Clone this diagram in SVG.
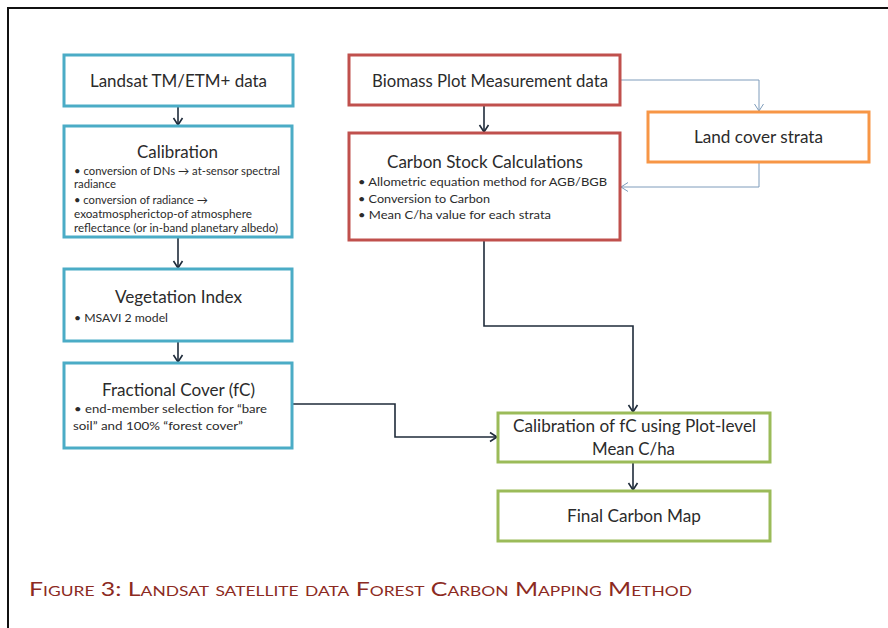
<svg xmlns="http://www.w3.org/2000/svg" width="888" height="628" viewBox="0 0 888 628">
<style>
.box{fill:#fff;stroke-width:3}
.teal{stroke:#4BACC6}
.red{stroke:#C0504D}
.orange{stroke:#F79646}
.green{stroke:#9BBB59}
.t{font-family:Lato,"Open Sans","Liberation Sans",sans-serif;fill:#2b2b2b}
.h{font-size:17px}
.b{font-size:11.5px}
.dark{fill:none;stroke:#1F2B3A;stroke-width:1.6}
.blue{fill:none;stroke:#7E9CBB;stroke-width:1}
.cap{font-family:Lato,"Open Sans","Liberation Sans",sans-serif;font-size:20px;font-variant:small-caps;fill:#8C2A22}
</style>
<defs>
<marker id="ad" markerUnits="userSpaceOnUse" markerWidth="12" markerHeight="12" refX="8" refY="6" orient="auto">
<path d="M1,1.5 L8,6 L1,10.5" fill="none" stroke="#1F2B3A" stroke-width="1.6"/>
</marker>
<marker id="ab" markerUnits="userSpaceOnUse" markerWidth="12" markerHeight="12" refX="8" refY="6" orient="auto">
<path d="M1,1.5 L8,6 L1,10.5" fill="none" stroke="#7E9CBB" stroke-width="1"/>
</marker>
</defs>
<rect width="888" height="628" fill="#fff"/>
<path d="M8,628 V8 H888" fill="none" stroke="#111" stroke-width="2"/>

<g id="connectors">
<path class="dark" d="M178,106 V125" marker-end="url(#ad)"/>
<path class="dark" d="M178,237 V268" marker-end="url(#ad)"/>
<path class="dark" d="M178,341 V362" marker-end="url(#ad)"/>
<path class="dark" d="M484,105 V132" marker-end="url(#ad)"/>
<path class="dark" d="M292,404 H395 V437 H497" marker-end="url(#ad)"/>
<path class="dark" d="M484,240 V326 H633 V412" marker-end="url(#ad)"/>
<path class="dark" d="M633,462 V490" marker-end="url(#ad)"/>
<path class="blue" d="M620,80 H759 V111" marker-end="url(#ab)"/>
<path class="blue" d="M759,162 V187 H621" marker-end="url(#ab)"/>
</g>

<g id="landsat">
<rect class="box teal" x="64" y="55" width="229" height="51"/>
<text class="t h" x="178.5" y="87" text-anchor="middle" textLength="177" lengthAdjust="spacingAndGlyphs">Landsat TM/ETM+ data</text>
</g>

<g id="calibration">
<rect class="box teal" x="64" y="126" width="228" height="111"/>
<text class="t h" x="177.5" y="158" text-anchor="middle" textLength="81" lengthAdjust="spacingAndGlyphs">Calibration</text>
<text class="t b" x="74" y="175" textLength="206" lengthAdjust="spacingAndGlyphs">• conversion of DNs → at-sensor spectral</text>
<text class="t b" x="74" y="188" textLength="42" lengthAdjust="spacingAndGlyphs">radiance</text>
<text class="t b" x="74" y="204" textLength="134" lengthAdjust="spacingAndGlyphs">• conversion of radiance →</text>
<text class="t b" x="74" y="218" textLength="178" lengthAdjust="spacingAndGlyphs">exoatmospherictop-of atmosphere</text>
<text class="t b" x="74" y="232" textLength="204" lengthAdjust="spacingAndGlyphs">reflectance (or in-band planetary albedo)</text>
</g>

<g id="vegetation">
<rect class="box teal" x="64" y="269" width="228" height="72"/>
<text class="t h" x="178.5" y="303" text-anchor="middle" textLength="127" lengthAdjust="spacingAndGlyphs">Vegetation Index</text>
<text class="t b" x="74" y="322" textLength="94" lengthAdjust="spacingAndGlyphs">• MSAVI 2 model</text>
</g>

<g id="fractional">
<rect class="box teal" x="64" y="363" width="228" height="85"/>
<text class="t h" x="178.5" y="396" text-anchor="middle" textLength="153" lengthAdjust="spacingAndGlyphs">Fractional Cover (fC)</text>
<text class="t b" x="74" y="413" textLength="193" lengthAdjust="spacingAndGlyphs">• end-member selection for “bare</text>
<text class="t b" x="73" y="430" textLength="170" lengthAdjust="spacingAndGlyphs">soil” and 100%  “forest cover”</text>
</g>

<g id="biomass">
<rect class="box red" x="349" y="55" width="271" height="50"/>
<text class="t h" x="490" y="87" text-anchor="middle" textLength="236" lengthAdjust="spacingAndGlyphs">Biomass Plot Measurement data</text>
</g>

<g id="carbonstock">
<rect class="box red" x="349" y="133" width="271" height="107"/>
<text class="t h" x="485" y="168" text-anchor="middle" textLength="196" lengthAdjust="spacingAndGlyphs">Carbon Stock Calculations</text>
<text class="t b" x="358" y="186" textLength="249" lengthAdjust="spacingAndGlyphs">• Allometric equation method for AGB/BGB</text>
<text class="t b" x="358" y="203" textLength="132" lengthAdjust="spacingAndGlyphs">• Conversion to  Carbon</text>
<text class="t b" x="358" y="219" textLength="193" lengthAdjust="spacingAndGlyphs">• Mean C/ha value for each strata</text>
</g>

<g id="landcover">
<rect class="box orange" x="648" y="112" width="221" height="50"/>
<text class="t h" x="758.5" y="143" text-anchor="middle" textLength="129" lengthAdjust="spacingAndGlyphs">Land cover strata</text>
</g>

<g id="calfc">
<rect class="box green" x="498" y="413" width="272" height="49"/>
<text class="t h" x="634.5" y="432" text-anchor="middle" textLength="243" lengthAdjust="spacingAndGlyphs">Calibration of fC using Plot-level</text>
<text class="t h" x="633.5" y="455" text-anchor="middle" textLength="83" lengthAdjust="spacingAndGlyphs">Mean C/ha</text>
</g>

<g id="finalmap">
<rect class="box green" x="498" y="491" width="272" height="50"/>
<text class="t h" x="634" y="522" text-anchor="middle" textLength="134" lengthAdjust="spacingAndGlyphs">Final Carbon Map</text>
</g>

<text class="cap" x="29" y="596" textLength="663" lengthAdjust="spacingAndGlyphs">Figure 3: Landsat satellite data Forest Carbon Mapping Method</text>
</svg>
